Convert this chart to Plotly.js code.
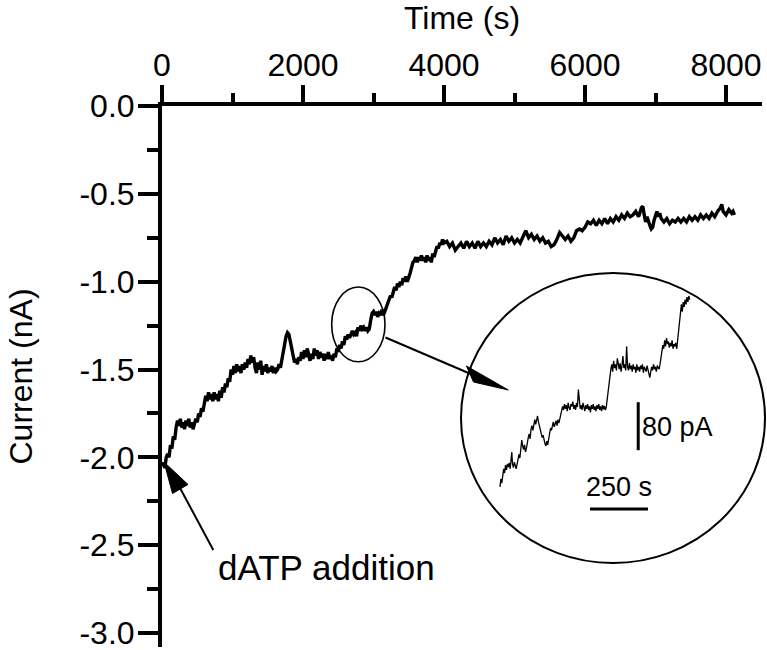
<!DOCTYPE html>
<html><head><meta charset="utf-8">
<script src="https://cdn.plot.ly/plotly-3.0.1.min.js"></script>
<style>body{margin:0;background:#fff}</style>
</head><body><div id="chart" style="width:767px;height:650px"></div>
<script>
// Main recording: time (s) and current (nA)
const mainTime = [0,20,40,60,80,100,120,140,160,180,200,220,240,260,280,300,320,340,360,380,400,420,440,460,480,500,520,540,560,580,600,620,640,660,680,700,720,740,760,780,800,820,840,860,880,900,920,940,960,980,1000,1020,1040,1060,1080,1100,1120,1140,1160,1180,1200,1220,1240,1260,1280,1300,1320,1340,1360,1380,1400,1420,1440,1460,1480,1500,1520,1540,1560,1580,1600,1620,1640,1660,1680,1700,1720,1740,1760,1780,1800,1820,1840,1860,1880,1900,1920,1940,1960,1980,2000,2020,2040,2060,2080,2100,2120,2140,2160,2180,2200,2220,2240,2260,2280,2300,2320,2340,2360,2380,2400,2420,2440,2460,2480,2500,2520,2540,2560,2580,2600,2620,2640,2660,2680,2700,2720,2740,2760,2780,2800,2820,2840,2860,2880,2900,2920,2940,2960,2980,3000,3020,3040,3060,3080,3100,3120,3140,3160,3180,3200,3220,3240,3260,3280,3300,3320,3340,3360,3380,3400,3420,3440,3460,3480,3500,3520,3540,3560,3580,3600,3620,3640,3660,3680,3700,3720,3740,3760,3780,3800,3820,3840,3860,3880,3900,3920,3940,3960,3980,4000,4040,4080,4120,4160,4200,4240,4280,4320,4360,4400,4440,4480,4520,4560,4600,4640,4680,4720,4760,4800,4840,4880,4920,4960,5000,5040,5080,5120,5160,5200,5240,5280,5320,5360,5400,5440,5480,5520,5560,5600,5640,5680,5720,5760,5800,5840,5880,5920,5960,6000,6040,6080,6120,6160,6200,6240,6280,6320,6360,6400,6440,6480,6520,6560,6600,6640,6680,6720,6760,6800,6820,6840,6860,6880,6900,6920,6940,6960,6980,7000,7020,7040,7060,7080,7120,7160,7200,7240,7280,7320,7360,7400,7440,7480,7520,7560,7600,7640,7680,7720,7760,7800,7840,7880,7920,7940,7960,8000,8040,8080,8100,8120];
const mainCurrent = [-2.05,-2.03,-2.06,-2.00,-1.98,-2.00,-1.93,-1.95,-1.88,-1.90,-1.83,-1.79,-1.82,-1.78,-1.83,-1.80,-1.84,-1.79,-1.82,-1.78,-1.83,-1.80,-1.84,-1.81,-1.78,-1.80,-1.75,-1.77,-1.72,-1.74,-1.68,-1.65,-1.68,-1.63,-1.67,-1.64,-1.68,-1.63,-1.67,-1.64,-1.68,-1.62,-1.66,-1.60,-1.63,-1.58,-1.60,-1.55,-1.57,-1.50,-1.53,-1.48,-1.52,-1.47,-1.51,-1.48,-1.52,-1.47,-1.50,-1.46,-1.49,-1.44,-1.47,-1.42,-1.46,-1.43,-1.49,-1.52,-1.46,-1.50,-1.45,-1.53,-1.48,-1.51,-1.47,-1.52,-1.49,-1.51,-1.48,-1.52,-1.49,-1.51,-1.50,-1.47,-1.49,-1.44,-1.40,-1.36,-1.31,-1.29,-1.30,-1.34,-1.38,-1.43,-1.46,-1.44,-1.47,-1.43,-1.45,-1.40,-1.44,-1.39,-1.43,-1.38,-1.42,-1.45,-1.41,-1.44,-1.38,-1.42,-1.39,-1.44,-1.40,-1.43,-1.41,-1.45,-1.41,-1.44,-1.40,-1.44,-1.42,-1.45,-1.41,-1.43,-1.38,-1.40,-1.36,-1.38,-1.34,-1.36,-1.31,-1.33,-1.30,-1.32,-1.30,-1.28,-1.30,-1.29,-1.31,-1.26,-1.28,-1.25,-1.27,-1.26,-1.28,-1.26,-1.28,-1.27,-1.22,-1.18,-1.17,-1.19,-1.17,-1.20,-1.18,-1.19,-1.16,-1.19,-1.17,-1.15,-1.13,-1.10,-1.08,-1.09,-1.05,-1.03,-1.05,-1.01,-1.03,-1.00,-1.02,-0.98,-1.00,-0.97,-1.00,-0.98,-0.95,-0.92,-0.89,-0.88,-0.86,-0.89,-0.86,-0.88,-0.85,-0.88,-0.86,-0.89,-0.85,-0.88,-0.86,-0.89,-0.84,-0.86,-0.82,-0.80,-0.81,-0.78,-0.79,-0.76,-0.78,-0.77,-0.80,-0.78,-0.82,-0.80,-0.78,-0.81,-0.77,-0.80,-0.78,-0.81,-0.77,-0.80,-0.78,-0.80,-0.77,-0.79,-0.75,-0.78,-0.76,-0.79,-0.74,-0.77,-0.75,-0.78,-0.76,-0.78,-0.74,-0.71,-0.75,-0.73,-0.76,-0.74,-0.77,-0.75,-0.78,-0.77,-0.80,-0.79,-0.76,-0.72,-0.74,-0.76,-0.74,-0.77,-0.75,-0.71,-0.70,-0.71,-0.69,-0.66,-0.67,-0.65,-0.68,-0.65,-0.67,-0.64,-0.67,-0.64,-0.66,-0.63,-0.65,-0.62,-0.64,-0.61,-0.63,-0.62,-0.60,-0.63,-0.58,-0.57,-0.62,-0.66,-0.63,-0.66,-0.68,-0.70,-0.69,-0.65,-0.62,-0.60,-0.63,-0.61,-0.64,-0.66,-0.64,-0.67,-0.65,-0.66,-0.64,-0.66,-0.64,-0.66,-0.63,-0.65,-0.63,-0.65,-0.62,-0.64,-0.62,-0.64,-0.61,-0.63,-0.60,-0.58,-0.56,-0.60,-0.62,-0.59,-0.61,-0.60,-0.62];

// Magnified segment (inset): time (s) and current (pA), relative
const insetTime = [86,90,94,98,102,106,110,114,118,122,126,130,134,137,140,144,148,152,156,160,164,168,172,176,180,184,188,192,196,200,204,208,212,216,220,224,228,232,236,240,244,248,252,256,260,264,268,272,276,280,284,288,292,296,300,304,308,312,316,320,324,328,332,336,340,344,348,352,356,360,364,368,372,376,380,384,388,392,396,400,404,408,412,416,420,424,428,432,436,440,444,448,452,456,460,464,468,472,476,480,484,488,492,496,500,504,508,512,516,520,524,528,532,536,540,544,548,552,556,560,564,568,572,576,580,584,588,592,596,600,604,608,612,616,620,624,628,632,636,640,644,648,652,656,660,664,668,672,676,680,684,688,692,696,700,704,708,712,716,720,724,728,732,736,740,744,748,752,756,760,764,768,772,776,780,784,788,792,796,800,804,808,812,816,820,824,828,832,836,840,844,848,852,856,860,864,868,872,876,880,884,888,892,896,900,904];
const insetCurrent = [22,35,28,48,52,45,58,50,60,55,62,52,66,80,60,54,63,56,52,60,68,76,70,88,100,90,84,92,80,86,98,104,110,102,118,124,116,128,134,126,132,140,130,122,116,110,104,108,98,94,90,98,92,100,114,120,116,126,130,122,128,132,124,134,128,136,140,150,156,150,160,152,158,148,162,154,150,160,156,164,152,158,150,162,155,184,160,152,158,150,162,154,148,158,152,160,150,156,146,158,152,160,150,156,148,158,152,160,150,156,148,158,151,157,150,154,168,180,196,204,218,226,214,232,220,226,216,236,222,218,228,214,224,240,220,226,216,256,222,216,228,218,224,214,226,218,222,212,226,216,222,214,224,218,226,212,222,218,214,224,216,210,204,214,222,216,226,218,222,214,224,220,218,226,236,250,258,252,266,256,270,260,264,254,262,256,266,252,260,256,262,252,268,290,306,318,326,314,330,322,334,326,338,330,340,334];

const xTickVals = [0,2000,4000,6000,8000];
const xTickText = ['0','2000','4000','6000','8000'];
const xMinorVals = [1000,3000,5000,7000];
const yTickVals = [0,-0.5,-1.0,-1.5,-2.0,-2.5,-3.0];
const yTickText = ['0.0','-0.5','-1.0','-1.5','-2.0','-2.5','-3.0'];
const yMinorVals = [-0.25,-0.75,-1.25,-1.75,-2.25,-2.75];

// pixel -> paper helpers for decorations
const L = 162, R = 5, T = 106, B = 3, W = 767, H = 650;
const pw = W - L - R, ph = H - T - B;
const px = x => (x - L) / pw;
const py = y => (H - B - y) / ph;
const pathPx = pts => 'M' + pts.map(p => px(p[0]).toFixed(5) + ',' + py(p[1]).toFixed(5)).join(' L') + ' Z';

const FONT = 'Liberation Sans, Arial, sans-serif';

const traces = [
  {x: mainTime, y: mainCurrent, type: 'scatter', mode: 'lines',
   line: {color: '#000', width: 3.4}, xaxis: 'x', yaxis: 'y', hoverinfo: 'skip'},
  {x: insetTime, y: insetCurrent, type: 'scatter', mode: 'lines',
   line: {color: '#000', width: 1.3}, xaxis: 'x2', yaxis: 'y2', hoverinfo: 'skip'}
];

const layout = {
  width: W, height: H,
  margin: {l: L, r: R, t: T, b: B, pad: 0},
  paper_bgcolor: '#fff', plot_bgcolor: '#fff',
  showlegend: false,
  font: {family: FONT, color: '#000', size: 32},
  xaxis: {
    side: 'top', range: [0, pw / 0.0705], showgrid: false, zeroline: false,
    showline: true, linecolor: '#000', linewidth: 4,
    tickmode: 'array', tickvals: xTickVals, ticktext: xTickText,
    ticks: 'outside', ticklen: 17, tickwidth: 4, tickcolor: '#000',
    tickfont: {family: FONT, size: 32}, ticklabelstandoff: -4, ticklabeloverflow: 'allow',
    minor: {tickmode: 'array', tickvals: xMinorVals, ticks: 'outside', ticklen: 9, tickwidth: 4, tickcolor: '#000', showgrid: false},
    title: {text: 'Time (s)', font: {family: FONT, size: 32}, standoff: 10},
    fixedrange: true
  },
  yaxis: {
    range: [-ph / 175.7, 0], showgrid: false, zeroline: false,
    showline: true, linecolor: '#000', linewidth: 4,
    tickmode: 'array', tickvals: yTickVals, ticktext: yTickText,
    ticks: 'outside', ticklen: 20, tickwidth: 4, tickcolor: '#000',
    tickfont: {family: FONT, size: 32}, ticklabelstandoff: -3, ticklabeloverflow: 'allow',
    minor: {tickmode: 'array', tickvals: yMinorVals, ticks: 'outside', ticklen: 11, tickwidth: 4, tickcolor: '#000', showgrid: false},
    title: {text: 'Current (nA)', font: {family: FONT, size: 32}, standoff: 38},
    fixedrange: true
  },
  xaxis2: {domain: [px(480), px(712)], range: [0, 1000], anchor: 'y2', visible: false, fixedrange: true},
  yaxis2: {domain: [py(530), py(260)], range: [-50, 400], anchor: 'x2', visible: false, fixedrange: true},
  shapes: [
    // ellipse marking the magnified region
    {type: 'circle', xref: 'x', yref: 'y', x0: 2407, x1: 3163, y0: -1.456, y1: -1.030,
     line: {color: '#000', width: 1.6}},
    // pointer from ellipse to inset
    {type: 'line', xref: 'paper', yref: 'paper', x0: px(385.5), y0: py(337.5), x1: px(472), y1: py(374.5),
     line: {color: '#000', width: 2}},
    {type: 'path', xref: 'paper', yref: 'paper', path: pathPx([[466.5,366],[508.3,390],[473.5,382]]),
     fillcolor: '#000', line: {color: '#000', width: 1}},
    // inset circle
    {type: 'circle', xref: 'paper', yref: 'paper', x0: px(461), x1: px(765), y0: py(563), y1: py(273),
     line: {color: '#000', width: 2}},
    // dATP arrow
    {type: 'line', xref: 'paper', yref: 'paper', x0: px(213.3), y0: py(550), x1: px(180), y1: py(488),
     line: {color: '#000', width: 2}},
    {type: 'path', xref: 'paper', yref: 'paper', path: pathPx([[172.5,493.5],[164,462],[188,484.5]]),
     fillcolor: '#000', line: {color: '#000', width: 1}},
    // scale bars of inset
    {type: 'line', xref: 'x2', yref: 'y2', x0: 682, x1: 682, y0: 83, y1: 163, line: {color: '#000', width: 3}},
    {type: 'line', xref: 'x2', yref: 'y2', x0: 474, x1: 724, y0: -15, y1: -15, line: {color: '#000', width: 3}}
  ],
  annotations: [
    {xref: 'paper', yref: 'paper', x: px(326), y: py(567), text: 'dATP addition', showarrow: false,
     xanchor: 'center', yanchor: 'middle', font: {family: FONT, size: 35}},
    {xref: 'x2', yref: 'y2', x: 690, y: 122, text: '80 pA', showarrow: false,
     xanchor: 'left', yanchor: 'middle', font: {family: FONT, size: 27}},
    {xref: 'x2', yref: 'y2', x: 600, y: 22, text: '250 s', showarrow: false,
     xanchor: 'center', yanchor: 'middle', font: {family: FONT, size: 27}}
  ]
};

Plotly.newPlot('chart', traces, layout, {staticPlot: true, displayModeBar: false});
</script>
</body></html>
